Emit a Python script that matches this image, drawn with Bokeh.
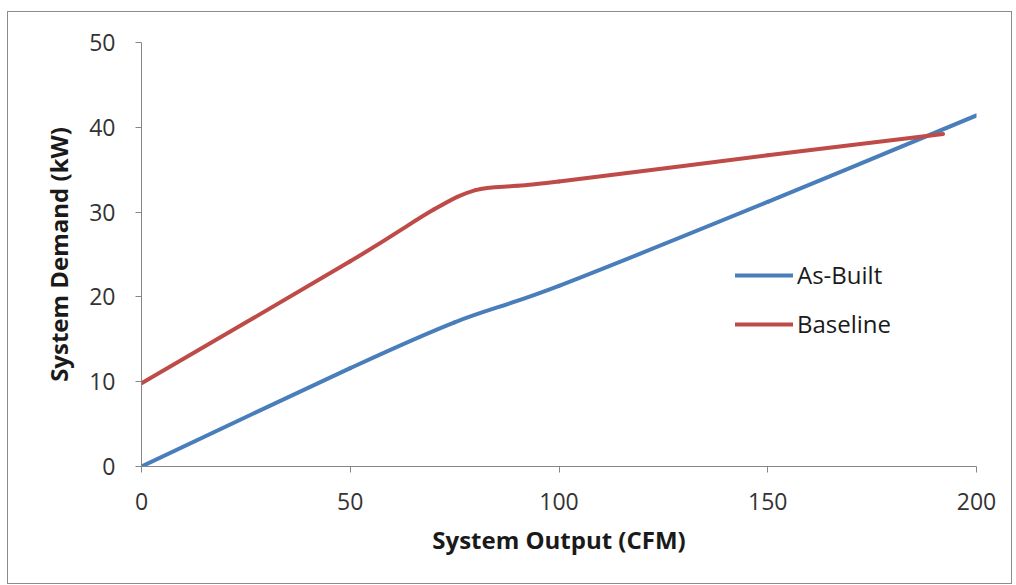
from bokeh.plotting import figure
from bokeh.models import Legend, LegendItem, FixedTicker, Range1d
from bokeh.embed import file_html
from bokeh.resources import INLINE

# Data
asbuilt_x = [0, 50, 75, 100, 150, 200]
asbuilt_y = [0.0, 11.6, 17.0, 21.3, 31.2, 41.4]

baseline_x = [0, 50, 70, 80, 90, 100, 150, 192]
baseline_y = [9.8, 24.2, 30.3, 32.6, 33.1, 33.6, 36.7, 39.2]

x_ticks = [0, 50, 100, 150, 200]
y_ticks = [0, 10, 20, 30, 40, 50]

FONT = "Open Sans"
BLUE = "#4a7ebb"
RED = "#be4b48"


def smooth_segments(xs, ys, t=1.0 / 6.0):
    """Excel-like smoothed line: cubic Bezier segments through the data points."""
    n = len(xs)
    seg = dict(x0=[], y0=[], x1=[], y1=[], cx0=[], cy0=[], cx1=[], cy1=[])
    for i in range(n - 1):
        xp, yp = (xs[i - 1], ys[i - 1]) if i > 0 else (xs[i], ys[i])
        xn, yn = (xs[i + 2], ys[i + 2]) if i + 2 < n else (xs[i + 1], ys[i + 1])
        seg["x0"].append(xs[i]); seg["y0"].append(ys[i])
        seg["x1"].append(xs[i + 1]); seg["y1"].append(ys[i + 1])
        seg["cx0"].append(xs[i] + (xs[i + 1] - xp) * t)
        seg["cy0"].append(ys[i] + (ys[i + 1] - yp) * t)
        seg["cx1"].append(xs[i + 1] - (xn - xs[i]) * t)
        seg["cy1"].append(ys[i + 1] - (yn - ys[i]) * t)
    return seg


p = figure(width=1005, height=573, output_backend="svg", toolbar_location=None,
           x_range=Range1d(0, 200), y_range=Range1d(0, 50),
           min_border_left=133, min_border_right=37, min_border_top=30,
           min_border_bottom=119)
p.margin = (11, 0, 0, 7)
p.styles = {"border": "1px solid #8c8c8c", "box-sizing": "border-box"}
p.background_fill_color = "white"
p.border_fill_color = "white"
p.outline_line_color = None
p.xgrid.visible = False
p.ygrid.visible = False

r1 = p.bezier(source=smooth_segments(asbuilt_x, asbuilt_y), x0="x0", y0="y0", x1="x1", y1="y1",
              cx0="cx0", cy0="cy0", cx1="cx1", cy1="cy1",
              line_color=BLUE, line_width=4, line_cap="round")
r2 = p.bezier(source=smooth_segments(baseline_x, baseline_y), x0="x0", y0="y0", x1="x1", y1="y1",
              cx0="cx0", cy0="cy0", cx1="cx1", cy1="cy1",
              line_color=RED, line_width=4, line_cap="round")

for ax in (p.xaxis[0], p.yaxis[0]):
    ax.axis_line_color = "#868686"
    ax.axis_line_width = 1
    ax.major_tick_line_color = "#868686"
    ax.major_tick_in = 0
    ax.major_tick_out = 6
    ax.minor_tick_line_color = None
    ax.major_label_text_font = FONT
    ax.major_label_text_font_size = "23px"
    ax.major_label_text_color = "#333333"
    ax.axis_label_text_font = FONT
    ax.axis_label_text_font_size = "24px"
    ax.axis_label_text_font_style = "bold"
    ax.axis_label_text_color = "#1a1a1a"

p.xaxis[0].ticker = FixedTicker(ticks=x_ticks)
p.yaxis[0].ticker = FixedTicker(ticks=y_ticks)
p.xaxis[0].axis_label = "System Output (CFM)"
p.yaxis[0].axis_label = "System Demand (kW)"
p.xaxis[0].major_label_standoff = 20
p.yaxis[0].major_label_standoff = 20
p.xaxis[0].axis_label_standoff = 10
p.yaxis[0].axis_label_standoff = 11

legend = Legend(items=[LegendItem(label="As-Built", renderers=[r1], index=0),
                       LegendItem(label="Baseline", renderers=[r2], index=0)],
                location=(594, 126))
legend.background_fill_alpha = 0
legend.border_line_color = None
legend.label_text_font = FONT
legend.label_text_font_size = "24px"
legend.label_text_color = "#1a1a1a"
legend.glyph_width = 58
legend.label_standoff = 4
legend.spacing = 16
legend.padding = 0
legend.margin = 0
p.add_layout(legend, "center")

open("out.html", "w").write(file_html(p, INLINE))
